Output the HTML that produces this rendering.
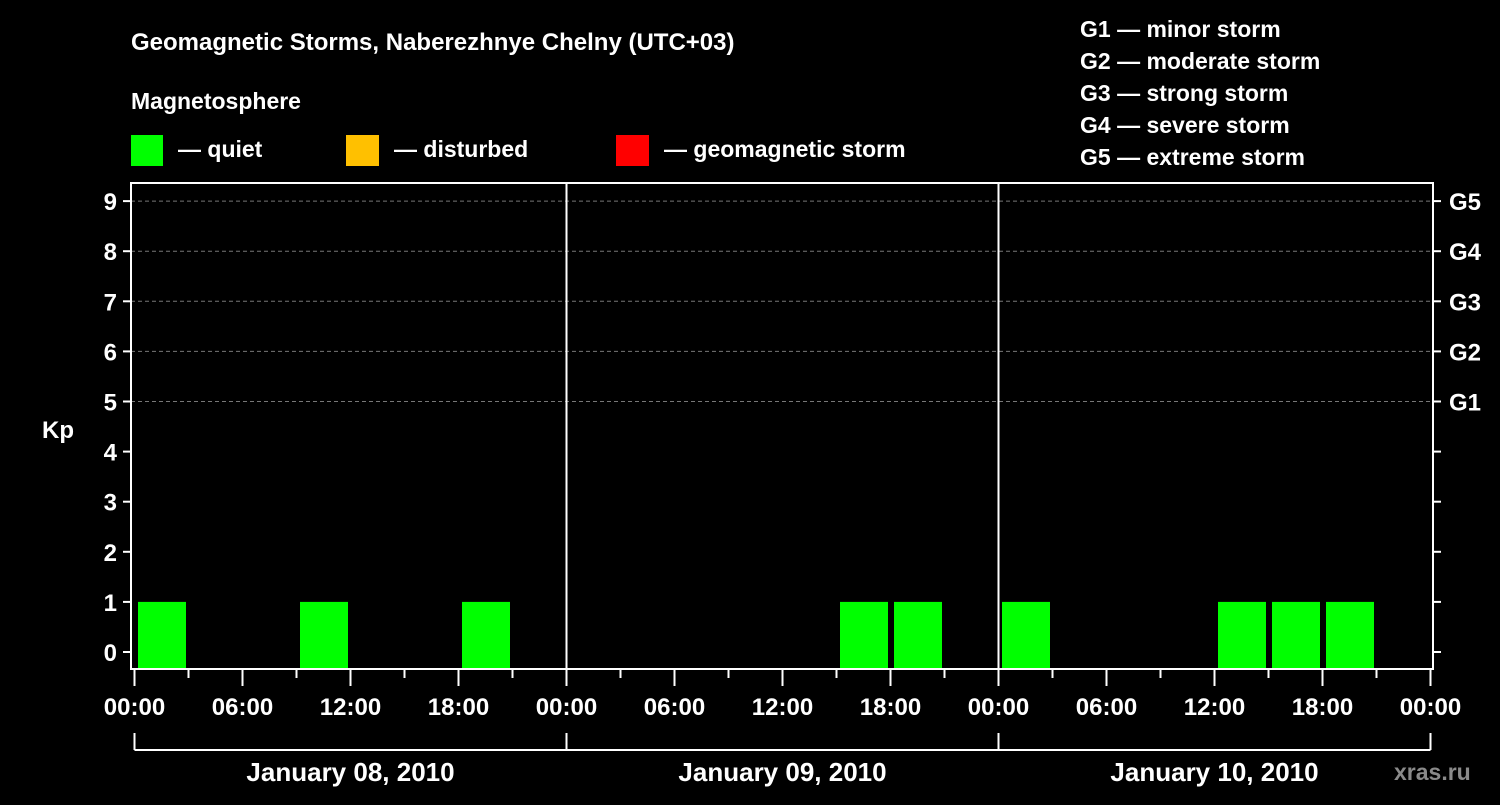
<!DOCTYPE html>
<html><head><meta charset="utf-8"><style>
body{margin:0;background:#000;width:1500px;height:800px;overflow:hidden}
svg text{font-family:"Liberation Sans",Arial,sans-serif;font-weight:bold;fill:#fff}
</style></head><body>
<svg id="c" width="1500" height="800">
<text x="131" y="50" font-size="24">Geomagnetic Storms, Naberezhnye Chelny (UTC+03)</text>
<text x="131" y="109" font-size="23">Magnetosphere</text>
<rect x="131" y="135" width="32" height="31" fill="#00ff00"/>
<text x="178" y="157" font-size="23">— quiet</text>
<rect x="346" y="135" width="33" height="31" fill="#ffc000"/>
<text x="394" y="157" font-size="23">— disturbed</text>
<rect x="616" y="135" width="33" height="31" fill="#ff0000"/>
<text x="664" y="157" font-size="23">— geomagnetic storm</text>
<g font-size="23">
<text x="1080" y="37">G1 — minor storm</text>
<text x="1080" y="69">G2 — moderate storm</text>
<text x="1080" y="101">G3 — strong storm</text>
<text x="1080" y="133">G4 — severe storm</text>
<text x="1080" y="165">G5 — extreme storm</text>
</g>
<text x="42" y="438" font-size="24">Kp</text>
<text x="1394" y="780" font-size="23" fill="#888" style="fill:#8a8a8a">xras.ru</text>
<g id="plot"></g>
</svg>
<script>
const days=["January 08, 2010","January 09, 2010","January 10, 2010"];
const kpDay1=[1,0,0,1,0,0,1,0];
const kpDay2=[0,0,0,0,0,1,1,0];
const kpDay3=[1,0,0,0,1,1,1,0];
const hourLabels=["00:00","06:00","12:00","18:00"];
const gLabels=["G1","G2","G3","G4","G5"];
const kpSeries=[kpDay1,kpDay2,kpDay3];
const NS="http://www.w3.org/2000/svg";
const L=131,R=1433,T=183,B=669,X0=134.5,HW=18;
const xs=h=>X0+h*HW;
const ys=k=>652-k*50.1;
const g=document.getElementById('plot');
function mk(t,a){const e=document.createElementNS(NS,t);for(const k in a)e.setAttribute(k,a[k]);g.appendChild(e);return e;}
// grid
for(let k=5;k<=9;k++){
const e=mk('line',{x1:L,x2:R,y1:ys(k),y2:ys(k),stroke:'#777','stroke-dasharray':'4,3','stroke-width':1});


}
// bars
kpSeries.forEach((arr,d)=>arr.forEach((v,i)=>{
if(v<=0)return;
const h0=d*24+i*3;
const e=mk('rect',{x:xs(h0)+3.5,width:xs(h0+3)-xs(h0)-6,y:ys(v),height:B-ys(v),fill:'#00ff00'});


}));
// frame
const fr=mk('rect',{x:L,y:T,width:R-L,height:B-T,fill:'none',stroke:'#fff','stroke-width':2});


for(let d=1;d<days.length;d++){
const e=mk('line',{x1:xs(d*24),x2:xs(d*24),y1:T,y2:B,stroke:'#fff','stroke-width':2});


}
// y ticks
for(let k=0;k<=9;k++){
const y=ys(k);
mk('line',{x1:L-8,x2:L,y1:y,y2:y,stroke:'#fff','stroke-width':2});
mk('line',{x1:R,x2:R+8,y1:y,y2:y,stroke:'#fff','stroke-width':2});
const t=mk('text',{x:L-14,y:y+9,'font-size':24,'text-anchor':'end'});t.textContent=k;


}
gLabels.forEach((s,i)=>{
const t=mk('text',{x:1449,y:ys(5+i)+9,'font-size':24});t.textContent=s;


});
// x ticks
for(let h=0;h<=days.length*24;h+=3){
const major=h%6===0;
mk('line',{x1:xs(h),x2:xs(h),y1:B,y2:major?686:678,stroke:'#fff','stroke-width':2});
if(major){
const t=mk('text',{x:xs(h),y:715,'font-size':24,'text-anchor':'middle'});
t.textContent=hourLabels[(h/6)%4];


}
}
// day brackets
mk('line',{x1:xs(0),x2:xs(days.length*24),y1:750,y2:750,stroke:'#fff','stroke-width':2});
for(let d=0;d<=days.length;d++)mk('line',{x1:xs(d*24),x2:xs(d*24),y1:733,y2:750,stroke:'#fff','stroke-width':2});
days.forEach((s,d)=>{
const t=mk('text',{x:xs(d*24+12),y:781,'font-size':26,'text-anchor':'middle'});t.textContent=s;


});
</script>
</body></html>
